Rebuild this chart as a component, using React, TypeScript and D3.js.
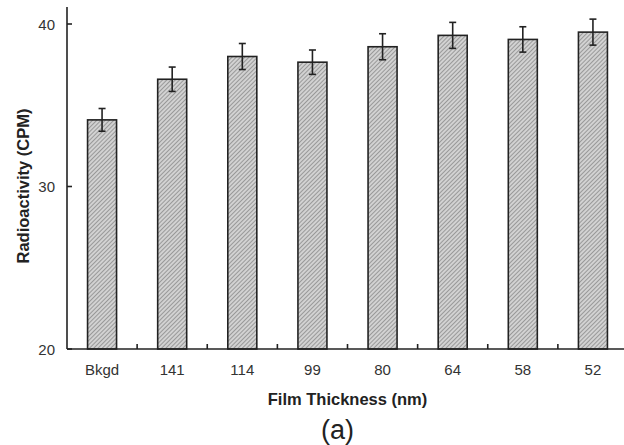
import React from "react";
import * as d3 from "d3";

const categories = ["Bkgd", "141", "114", "99", "80", "64", "58", "52"];
const values = [34.1, 36.6, 38.0, 37.65, 38.6, 39.3, 39.05, 39.5];
const errors = [0.7, 0.75, 0.8, 0.75, 0.8, 0.8, 0.78, 0.8];
const yTicks = [20, 30, 40];

const W = 624;
const H = 445;
const left = 67;
const right = 628;
const top = 24;
const bottom = 349;

export default function App() {
  const x = d3.scaleBand<string>().domain(categories).range([left, right]).paddingInner(0).paddingOuter(0);
  const y = d3.scaleLinear().domain([20, 40]).range([bottom, top]);
  const bw = 29;
  const font = "'Liberation Sans', Arial, sans-serif";
  const ink = "#222";

  return (
    <svg width={W} height={H} style={{ position: "absolute", left: 0, top: 0, background: "#fff" }}>
      <defs>
        <pattern id="hatch" patternUnits="userSpaceOnUse" width="3" height="3" patternTransform="rotate(45)">
          <rect width="3" height="3" fill="#d2d2d2" />
          <line x1="0" y1="0" x2="0" y2="3" stroke="#7a7a7a" strokeWidth="1.3" />
        </pattern>
      </defs>

      {categories.map((c, i) => {
        const cx = x(c)! + x.bandwidth() / 2;
        const v = values[i];
        const e = errors[i];
        return (
          <g key={c}>
            <rect x={cx - bw / 2} y={y(v)} width={bw} height={bottom - y(v)} fill="url(#hatch)" stroke={ink} strokeWidth={1.6} />
            <line x1={cx} x2={cx} y1={y(v + e)} y2={y(v - e)} stroke={ink} strokeWidth={1.6} />
            <line x1={cx - 3.5} x2={cx + 3.5} y1={y(v + e)} y2={y(v + e)} stroke={ink} strokeWidth={1.6} />
            <line x1={cx - 3.5} x2={cx + 3.5} y1={y(v - e)} y2={y(v - e)} stroke={ink} strokeWidth={1.6} />
            <text x={cx} y={375} textAnchor="middle" fontFamily={font} fontSize={15} fill="#333">{c}</text>
          </g>
        );
      })}

      {/* category separator ticks */}
      {categories.slice(1).map((c) => (
        <line key={"t" + c} x1={x(c)!} x2={x(c)!} y1={bottom} y2={bottom - 5} stroke={ink} strokeWidth={1.6} />
      ))}

      {/* axes */}
      <line x1={left} x2={left} y1={7} y2={bottom} stroke={ink} strokeWidth={1.6} />
      <line x1={left} x2={W} y1={bottom} y2={bottom} stroke={ink} strokeWidth={1.6} />

      {yTicks.map((t) => (
        <g key={t}>
          <line x1={left} x2={left + 5} y1={y(t)} y2={y(t)} stroke={ink} strokeWidth={1.6} />
          <text x={55} y={y(t) + 5.5} textAnchor="end" fontFamily={font} fontSize={15} fill="#333">{t}</text>
        </g>
      ))}

      <text transform={`translate(29,186) rotate(-90)`} textAnchor="middle" fontFamily={font} fontSize={16.5} fontWeight="bold" fill={ink}>
        Radioactivity (CPM)
      </text>
      <text x={347.5} y={405} textAnchor="middle" fontFamily={font} fontSize={16.5} fontWeight="bold" fill={ink}>
        Film Thickness (nm)
      </text>
      <text x={337.5} y={439} textAnchor="middle" fontFamily={font} fontSize={27} fill={ink}>
        (a)
      </text>
    </svg>
  );
}
